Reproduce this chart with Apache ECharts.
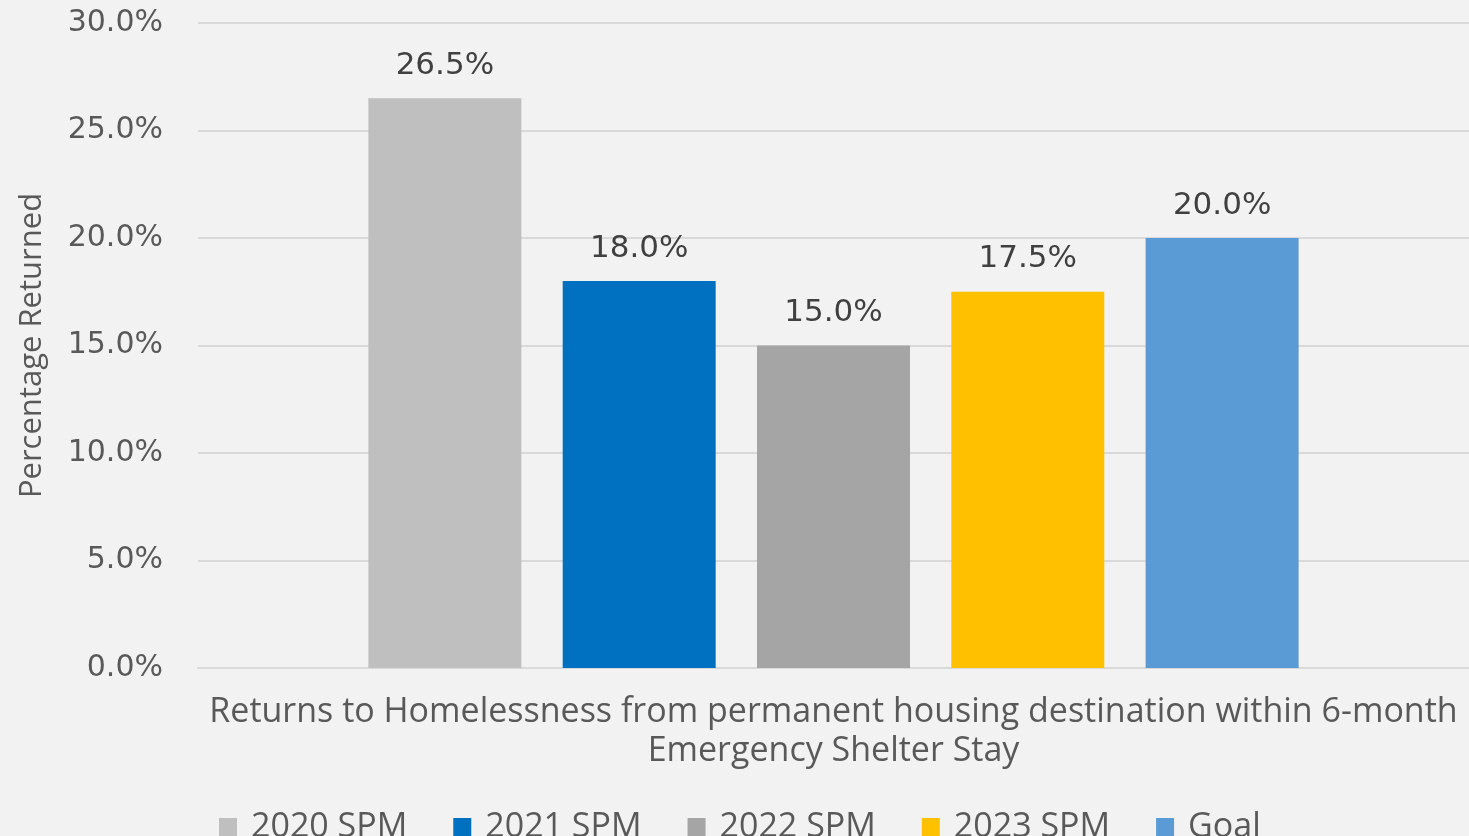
<!DOCTYPE html>
<html>
<head>
<meta charset="utf-8">
<script src="https://cdn.jsdelivr.net/npm/echarts@6/dist/echarts.min.js"></script>
<style>
  html, body { margin: 0; padding: 0; background: #f2f2f2; }
  #chart { width: 1469px; height: 836px; }
</style>
</head>
<body>
<div id="chart"></div>
<script>
	var categories = ['Returns to Homelessness from permanent housing destination within 6-month\nEmergency Shelter Stay'];
	var seriesNames = ['2020 SPM', '2021 SPM', '2022 SPM', '2023 SPM', 'Goal'];
	var seriesValues = [26.5, 18.0, 15.0, 17.5, 20.0];
	var colors = ['#bfbfbf', '#0070c0', '#a5a5a5', '#ffc000', '#5b9bd5'];
	var yTicks = { min: 0, max: 30, interval: 5 };

	var chart = echarts.init(document.getElementById('chart'));

	var series = [];
	seriesNames.forEach(function (name, i) {
		series.push({
			name: name,
			type: 'bar',
			data: [seriesValues[i]],
			barWidth: 153,
			barGap: '27%',
			itemStyle: { color: colors[i] },
			label: {
				show: true,
				position: 'top',
				distance: 17,
				color: '#404040',
				fontFamily: 'DejaVu Sans',
				fontSize: 31,
				formatter: function (p) { return p.value.toFixed(1) + '%'; }
			}
		});
	});

	chart.setOption({
		backgroundColor: '#f2f2f2',
		animation: false,
		color: colors,
		grid: { left: 198, right: 0, top: 23, bottom: 168 },
		legend: {
			data: seriesNames,
			left: 214,
			top: 805,
			icon: 'rect',
			itemWidth: 18,
			itemHeight: 18,
			itemGap: 46,
			textStyle: { color: '#595959', fontFamily: 'Open Sans', fontSize: 34, padding: [0, 0, 0, 9] }
		},
		xAxis: {
			type: 'category',
			data: categories,
			axisLine: { lineStyle: { color: '#d9d9d9', width: 2 } },
			axisTick: { show: false },
			axisLabel: {
				color: '#595959',
				fontFamily: 'Open Sans',
				fontSize: 34,
				lineHeight: 39,
				margin: 25
			}
		},
		yAxis: {
			type: 'value',
			min: yTicks.min,
			max: yTicks.max,
			interval: yTicks.interval,
			name: 'Percentage Returned',
			nameLocation: 'middle',
			nameGap: 150,
			nameTextStyle: { color: '#595959', fontFamily: 'Open Sans', fontSize: 31 },
			axisLine: { show: false },
			axisTick: { show: false },
			splitLine: { lineStyle: { color: '#d9d9d9', width: 2 } },
			axisLabel: {
				color: '#595959',
				fontFamily: 'DejaVu Sans',
				fontSize: 30,
				margin: 35,
				formatter: function (v) { return v.toFixed(1) + '%'; }
			}
		},
		series: series
	});
</script>
</body>
</html>
